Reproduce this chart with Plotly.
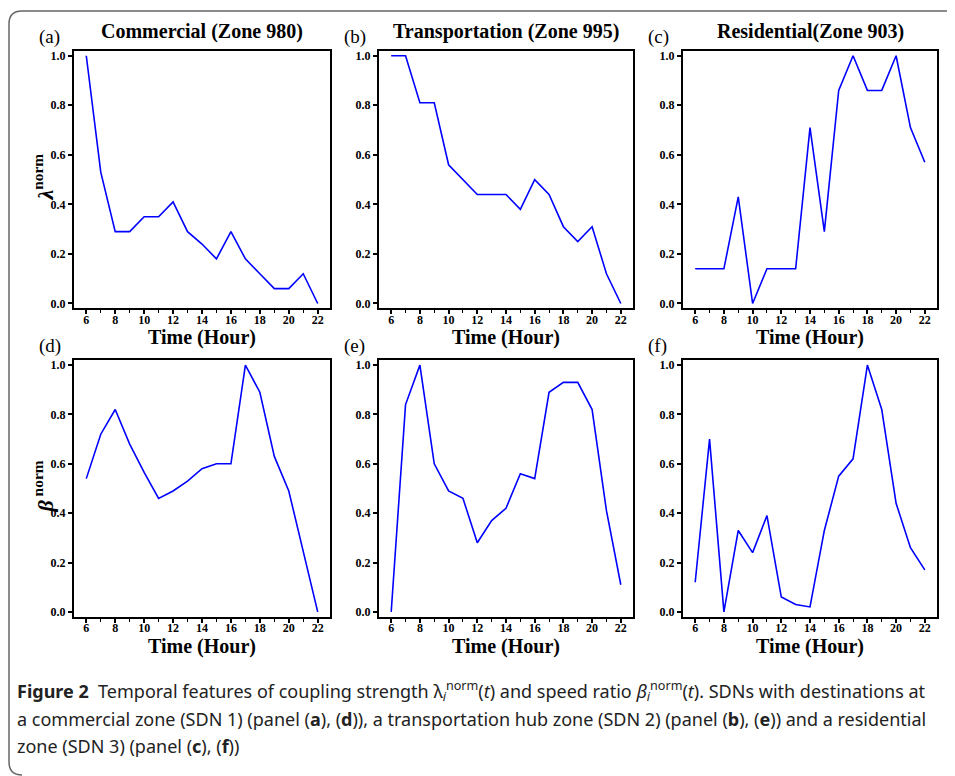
import plotly.graph_objects as go

OFF = 8  # default page margin of the html body
W, H = 955 - OFF, 776 - OFF

hours = list(range(6, 23))
x_ticks = [6, 8, 10, 12, 14, 16, 18, 20, 22]
y_ticks = [0.0, 0.2, 0.4, 0.6, 0.8, 1.0]

lam_commercial = [1.0, 0.53, 0.29, 0.29, 0.35, 0.35, 0.41, 0.29, 0.24, 0.18, 0.29, 0.18, 0.12, 0.06, 0.06, 0.12, 0.0]
lam_transport = [1.0, 1.0, 0.81, 0.81, 0.56, 0.50, 0.44, 0.44, 0.44, 0.38, 0.50, 0.44, 0.31, 0.25, 0.31, 0.12, 0.0]
lam_residential = [0.14, 0.14, 0.14, 0.43, 0.0, 0.14, 0.14, 0.14, 0.71, 0.29, 0.86, 1.0, 0.86, 0.86, 1.0, 0.71, 0.57]
beta_commercial = [0.54, 0.72, 0.82, 0.68, 0.565, 0.46, 0.49, 0.53, 0.58, 0.60, 0.60, 1.0, 0.89, 0.63, 0.49, 0.24, 0.0]
beta_transport = [0.0, 0.84, 1.0, 0.60, 0.49, 0.46, 0.28, 0.37, 0.42, 0.56, 0.54, 0.89, 0.93, 0.93, 0.82, 0.41, 0.11]
beta_residential = [0.12, 0.70, 0.0, 0.33, 0.24, 0.39, 0.06, 0.03, 0.02, 0.33, 0.55, 0.62, 1.0, 0.82, 0.44, 0.26, 0.17]

titles = ["Commercial (Zone 980)", "Transportation (Zone 995)", "Residential(Zone 903)"]
letters = ["(a)", "(b)", "(c)", "(d)", "(e)", "(f)"]
x_label = "Time (Hour)"
y_labels = ["<b><i>λ</i></b><sup><b>norm</b></sup>", "<b><i>β</i></b><sup><b> norm</b></sup>"]

caption_lines = [
    "<b>Figure 2</b>  Temporal features of coupling strength λ<sub><i>i</i></sub><sup>norm</sup>(<i>t</i>) and speed ratio <i>β</i><sub><i>i</i></sub><sup>norm</sup>(<i>t</i>). SDNs with destinations at",
    "a commercial zone (SDN 1) (panel (<b>a</b>), (<b>d</b>)), a transportation hub zone (SDN 2) (panel (<b>b</b>), (<b>e</b>)) and a residential",
    "zone (SDN 3) (panel (<b>c</b>), (<b>f</b>))",
]

series = [lam_commercial, lam_transport, lam_residential,
          beta_commercial, beta_transport, beta_residential]

# page-pixel layout of plot areas
cols_px = [(74, 330), (379, 633), (683, 937)]
rows_px = [(49, 308), (360, 618)]

SERIF = "Liberation Serif, Times New Roman, serif"

def px_x(p):
    return (p - OFF) / W

def px_y(p):
    return 1 - (p - OFF) / H

fig = go.Figure()
layout = dict(width=W, height=H, margin=dict(l=0, r=0, t=0, b=0),
              paper_bgcolor="white", plot_bgcolor="white", showlegend=False)

annotations = []
for i, ys in enumerate(series):
    r, c = divmod(i, 3)
    n = i + 1
    xa = "x" if n == 1 else f"x{n}"
    ya = "y" if n == 1 else f"y{n}"
    fig.add_trace(go.Scatter(x=hours, y=ys, mode="lines",
                             line=dict(color="#0000ff", width=1.6),
                             xaxis=xa, yaxis=ya, hoverinfo="skip"))
    x0, x1 = cols_px[c]
    y0, y1 = rows_px[r]
    axis_common = dict(showline=True, linecolor="black", linewidth=2, mirror=True,
                       ticks="outside", ticklen=4, tickwidth=1.5, tickcolor="black",
                       showgrid=False, zeroline=False,
                       tickfont=dict(family=SERIF, size=12, color="black", weight="bold"))
    layout["xaxis" if n == 1 else f"xaxis{n}"] = dict(
        domain=[px_x(x0), px_x(x1)], range=[5.15, 22.85],
        tickvals=x_ticks, anchor=ya, ticklabelstandoff=-5,
        minor=dict(tickvals=[h for h in hours if h % 2 == 1], ticks="outside",
                   ticklen=3, tickwidth=1.2, tickcolor="black"),
        **axis_common)
    layout["yaxis" if n == 1 else f"yaxis{n}"] = dict(
        domain=[px_y(y1), px_y(y0)], range=[-0.02, 1.02],
        tickvals=y_ticks, tickformat=".1f", anchor=xa,
        **axis_common)
    cx = (x0 + x1) / 2
    # x-axis label
    annotations.append(dict(text=f"<b>{x_label}</b>", x=px_x(cx), y=px_y(y1 + 29.5),
                            xref="paper", yref="paper", showarrow=False,
                            font=dict(family=SERIF, size=20, color="black"),
                            xanchor="center", yanchor="middle"))
    # panel letter
    annotations.append(dict(text=letters[i], x=px_x(x0 - 37), y=px_y(y0 - 14),
                            xref="paper", yref="paper", showarrow=False,
                            font=dict(family=SERIF, size=19, color="black"),
                            xanchor="left", yanchor="middle"))
    if r == 0:
        annotations.append(dict(text=f"<b>{titles[c]}</b>", x=px_x(cx), y=px_y(y0 - 19),
                                xref="paper", yref="paper", showarrow=False,
                                font=dict(family=SERIF, size=20, color="black"),
                                xanchor="center", yanchor="middle"))
    if c == 0:
        annotations.append(dict(text=y_labels[r], x=px_x(43), y=px_y((y0 + y1) / 2 - 2),
                                xref="paper", yref="paper", showarrow=False, textangle=-90,
                                font=dict(family=SERIF, size=22, color="black"),
                                xanchor="center", yanchor="middle"))

cap_y = [693, 721, 748]
for line, yy in zip(caption_lines, cap_y):
    annotations.append(dict(text=line, x=px_x(15), y=px_y(yy), xref="paper", yref="paper",
                            showarrow=False, xanchor="left", yanchor="middle",
                            font=dict(family="Noto Sans, sans-serif", size=18, color="#222")))

layout["annotations"] = annotations

# rounded frame around figure (left side, open on right)
def P(x, y):
    return f"{(x - OFF) / W:.5f},{1 - (y - OFF) / H:.5f}"

path = (f"M {P(970, 9)} L {P(22, 9)} Q {P(9, 9)} {P(9, 22)} "
        f"L {P(9, 764)} Q {P(9, 777)} {P(22, 777)}")
layout["shapes"] = [dict(type="path", path=path, xref="paper", yref="paper",
                         line=dict(color="#666666", width=1.5))]

fig.update_layout(**layout)
fig.write_html("out.html")
